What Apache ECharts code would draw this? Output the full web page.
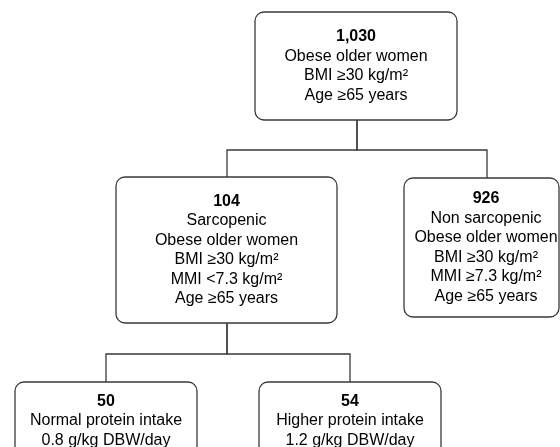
<!DOCTYPE html>
<html>
<head>
<meta charset="utf-8">
<script src="https://cdn.jsdelivr.net/npm/echarts@6/dist/echarts.min.js"></script>
<style>html,body{margin:0;padding:0;background:#fff;}#c{width:560px;height:447px;}</style>
</head>
<body>
<div id="c"></div>
<script>
// ---- data ----
const counts = ['1,030', '104', '926', '50', '54'];
const descriptions = [
  ['Obese older women', 'BMI ≥30 kg/m²', 'Age ≥65 years'],
  ['Sarcopenic', 'Obese older women', 'BMI ≥30 kg/m²', 'MMI <7.3 kg/m²', 'Age ≥65 years'],
  ['Non sarcopenic', 'Obese older women', 'BMI ≥30 kg/m²', 'MMI ≥7.3 kg/m²', 'Age ≥65 years'],
  ['Normal protein intake', '0.8 g/kg DBW/day'],
  ['Higher protein intake', '1.2 g/kg DBW/day']
];
const parents = [-1, 0, 0, 1, 1];

// ---- layout (kept apart from data) ----
const boxLayout = [
  [255, 12, 457, 120],
  [116, 177, 337, 323],
  [404, 178, 559, 317],
  [15, 382, 197, 470],
  [259, 382, 441, 470]
];
const anchorX = [357, 227, 487, 106, 350];
const textCenter = [[356, 66], [226.5, 250], [486, 247.5], [106, 421], [350, 421]];

const FONT = 'Liberation Sans, Arial, Helvetica, sans-serif';
const LH = 19.5;

const connectorData = [];
parents.forEach((p, i) => {
  if (p < 0) return;
  const pb = boxLayout[p][3];
  const ct = boxLayout[i][1];
  const midY = Math.round((pb + ct) / 2) + 1;
  connectorData.push({ coords: [[anchorX[p], pb], [anchorX[p], midY], [anchorX[i], midY], [anchorX[i], ct]] });
});

const chart = echarts.init(document.getElementById('c'), null, { renderer: 'canvas' });
chart.setOption({
  animation: false,
  backgroundColor: '#fff',
  grid: { left: 0, right: 0, top: 0, bottom: 0 },
  xAxis: { type: 'value', min: 0, max: 560, show: false },
  yAxis: { type: 'value', min: 0, max: 447, inverse: true, show: false },
  series: [
    {
      type: 'lines',
      coordinateSystem: 'cartesian2d',
      polyline: true,
      silent: true,
      lineStyle: { color: '#3a3a3a', width: 1.3, opacity: 1 },
      data: connectorData,
      z: 1
    },
    {
      type: 'custom',
      coordinateSystem: 'cartesian2d',
      silent: true,
      data: counts.map((c, i) => [textCenter[i][0], textCenter[i][1], i]),
      renderItem: function (params, api) {
        const i = api.value(2);
        const b = boxLayout[i];
        const p0 = api.coord([b[0], b[1]]);
        const p1 = api.coord([b[2], b[3]]);
        const tc = api.coord([api.value(0), api.value(1)]);
        const txt = '{b|' + counts[i] + '}\n' + descriptions[i].map(s => '{n|' + s + '}').join('\n');
        return {
          type: 'group',
          children: [
            {
              type: 'rect',
              shape: { x: p0[0], y: p0[1], width: p1[0] - p0[0], height: p1[1] - p0[1], r: 9 },
              style: { fill: '#fff', stroke: '#3a3a3a', lineWidth: 1.3 }
            },
            {
              type: 'text',
              style: {
                text: txt,
                x: tc[0],
                y: tc[1],
                align: 'center',
                verticalAlign: 'middle',
                fill: '#000',
                rich: {
                  b: { fontFamily: FONT, fontSize: 16, fontWeight: 'bold', lineHeight: LH, fill: '#000', align: 'center' },
                  n: { fontFamily: FONT, fontSize: 16, lineHeight: LH, fill: '#000', align: 'center' }
                }
              }
            }
          ]
        };
      },
      z: 2
    }
  ]
});
</script>
</body>
</html>
